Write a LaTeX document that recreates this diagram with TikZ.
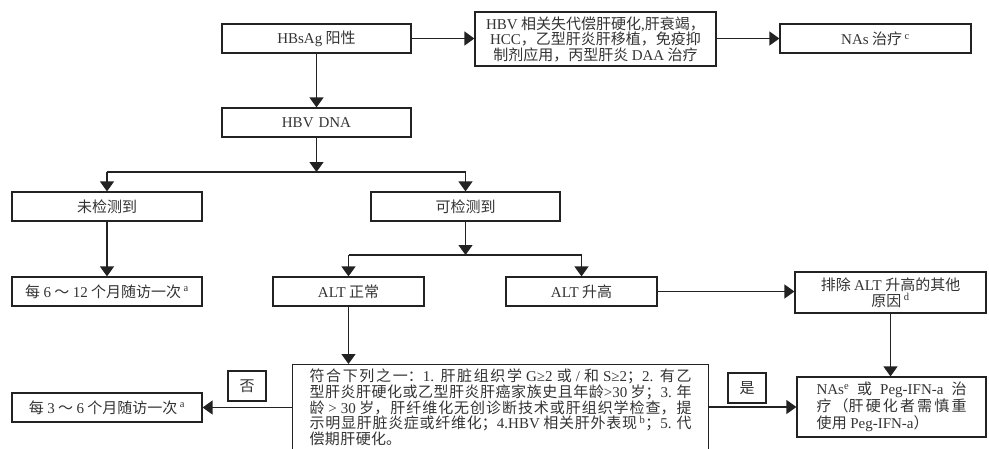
\documentclass[tikz,border=0pt]{standalone}
\usepackage{fontspec}
\setmainfont{Noto Sans CJK SC}
\newfontfamily\enfont{Liberation Serif}
\usetikzlibrary{arrows.meta,calc}
\XeTeXlinebreaklocale "zh"
\XeTeXlinebreakskip=0.4pt plus 3pt
\newcommand\lat[1]{{\enfont #1}}
\newcommand\supr[1]{\textsuperscript{\enfont #1}}
\definecolor{linec}{HTML}{222222}
\definecolor{txt}{HTML}{333333}
\begin{document}
\begin{tikzpicture}[x=1pt,y=-1pt,
  box/.style={draw=linec, line width=1.2pt, text=txt, inner sep=0pt,
    minimum height=29pt, align=center, font=\fontsize{15}{15.5}\selectfont},
  conn/.style={draw=linec, line width=1.3pt},
  arr/.style={conn, -{Triangle[width=14pt,length=10pt]}}
]
\useasboundingbox (0,0) rectangle (989,448);

\node[box, minimum width=189pt] (hbsag) at (316.5,38.5) {\lat{HBsAg} 阳性};
\node[box, minimum width=241pt, minimum height=54pt] (cond) at (595.5,39)
  {\lat{HBV} 相关失代偿肝硬化\lat{,}肝衰竭，\\\lat{HCC}，乙型肝炎肝移植，免疫抑\\制剂应用，丙型肝炎 \lat{DAA} 治疗};
\node[box, minimum width=191pt] (nas) at (875.5,38.5) {\lat{NAs} 治疗\,\supr{c}};
\node[box, minimum width=189pt] (dna) at (316.5,122.5) {\lat{HBV\hspace{5pt}DNA}};
\node[box, minimum width=190pt] (und) at (107,206.5) {未检测到};
\node[box, minimum width=189pt] (det) at (465.5,206.5) {可检测到};
\node[box, minimum width=190pt] (f612) at (107,291.5) {每 \lat{6} ～ \lat{12} 个月随访一次\,\supr{a}};
\node[box, minimum width=151pt] (altn) at (348.5,291.5) {\lat{ALT} 正常};
\node[box, minimum width=151pt] (alth) at (581.5,291.5) {\lat{ALT} 升高};
\node[box, minimum width=191pt, minimum height=41pt] (excl) at (890.5,292.5)
  {排除 \lat{ALT} 升高的其他\\原因\,\supr{d}};
\node[box, anchor=north west, text width=382pt, align=justify, inner xsep=17pt,
  inner ysep=4pt, minimum width=416pt, font=\fontsize{15}{15}\selectfont] (crit) at (292,364)
  {符合下列之一：\lat{1.} 肝脏组织学 \lat{G≥2} 或 \lat{/} 和 \lat{S≥2}；\lat{2.} 有乙\linebreak
   型肝炎肝硬化或乙型肝炎肝癌家族史且年龄\lat{>30} 岁；\lat{3.} 年\linebreak
   龄 \lat{> 30} 岁，肝纤维化无创诊断技术或肝组织学检查，提\linebreak
   示明显肝脏炎症或纤维化；\lat{4.HBV} 相关肝外表现\,\supr{b}；\lat{5.} 代\linebreak
   偿期肝硬化。};
\node[box, minimum width=190pt] (f36) at (107,407.5) {每 \lat{3} ～ \lat{6} 个月随访一次\,\supr{a}};
\node[box, text width=150pt, align=justify, inner xsep=19.5pt, minimum height=60pt,
  font=\fontsize{15}{17}\selectfont] (treat) at (891.5,407)
  {\lat{NAs}\supr{e} 或 \lat{Peg-IFN-a} 治\linebreak
   疗（肝硬化者需慎重\linebreak
   使用 \lat{Peg-IFN-a}）};
\node[box, minimum width=38pt, minimum height=30pt] (no) at (247,386) {否};
\node[box, minimum width=38pt, minimum height=30pt] (yes) at (747,388) {是};

\draw[arr] (hbsag.east) -- (hbsag.east -| cond.west);
\draw[arr] (cond.east |- nas.west) -- (nas.west);
\draw[arr] (hbsag) -- (dna);
\coordinate (b1) at (316.5,172);
\coordinate (b1l) at (und.north |- b1);
\coordinate (b1r) at (det.north |- b1);
\draw[arr] (dna) -- (b1);
\draw[conn] (b1l) -- (b1r);
\draw[arr] (b1l) -- (und);
\draw[arr] (b1r) -- (det);
\draw[arr] (und) -- (f612);
\coordinate (b2) at (465.5,255);
\coordinate (b2l) at (altn.north |- b2);
\coordinate (b2r) at (alth.north |- b2);
\draw[arr] (det) -- (b2);
\draw[conn] (b2l) -- (b2r);
\draw[arr] (b2l) -- (altn);
\draw[arr] (b2r) -- (alth);
\draw[arr] (alth.east) -- (alth.east -| excl.west);
\draw[arr] (excl.south) -- (excl.south |- treat.north);
\draw[arr] (altn.south) -- (altn.south |- crit.north);
\draw[arr] (crit.west |- f36.east) -- (f36.east);
\draw[arr] (crit.east |- treat.west) -- (treat.west);
\end{tikzpicture}
\end{document}
